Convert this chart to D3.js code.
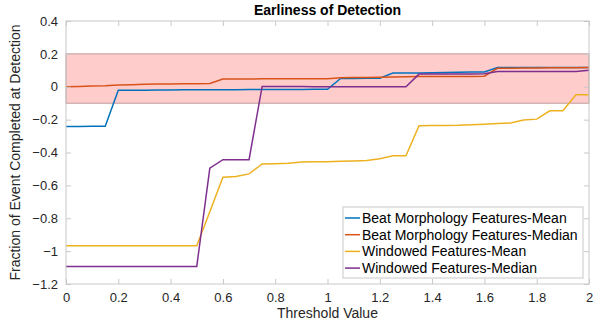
<!DOCTYPE html>
<html>
<head>
<meta charset="utf-8">
<script src="https://cdn.jsdelivr.net/npm/d3@7"></script>
<style>
  body { margin: 0; background: #fff; }
  text { font-family: "Liberation Sans", Arial, sans-serif; }
</style>
</head>
<body>
<script>
// threshold values 0 .. 2 in steps of 0.05
const thresholds = d3.range(41).map(i => +(i * 0.05).toFixed(2));

const beatMean = [
  -0.242, -0.242, -0.241, -0.240, -0.022, -0.021, -0.021, -0.020, -0.020, -0.019,
  -0.019, -0.018, -0.018, -0.018, -0.017, -0.017, -0.016, -0.016, -0.016, -0.015,
  -0.015, 0.050, 0.050, 0.051, 0.052, 0.083, 0.083, 0.084, 0.085, 0.086,
  0.088, 0.089, 0.090, 0.117, 0.117, 0.117, 0.117, 0.117, 0.117, 0.117, 0.117
];
const beatMedian = [
  0.000, 0.002, 0.004, 0.006, 0.010, 0.012, 0.015, 0.016, 0.017, 0.018,
  0.019, 0.020, 0.047, 0.047, 0.047, 0.048, 0.048, 0.048, 0.048, 0.048,
  0.048, 0.055, 0.056, 0.057, 0.058, 0.060, 0.061, 0.062, 0.062, 0.063,
  0.063, 0.063, 0.064, 0.112, 0.113, 0.114, 0.114, 0.115, 0.115, 0.116, 0.117
];
const windowedMean = [
  -0.967, -0.967, -0.967, -0.967, -0.967, -0.967, -0.967, -0.967, -0.967, -0.967,
  -0.967, -0.760, -0.550, -0.546, -0.530, -0.470, -0.468, -0.466, -0.458, -0.457,
  -0.456, -0.453, -0.451, -0.448, -0.438, -0.420, -0.420, -0.237, -0.236, -0.235,
  -0.234, -0.231, -0.228, -0.224, -0.221, -0.203, -0.197, -0.146, -0.146, -0.049, -0.049
];
const windowedMedian = [
  -1.093, -1.093, -1.093, -1.093, -1.093, -1.093, -1.093, -1.093, -1.093, -1.093,
  -1.093, -0.495, -0.444, -0.444, -0.444, 0.002, 0.002, 0.001, 0.001, 0.000,
  0.000, 0.000, 0.000, 0.000, 0.000, 0.000, 0.000, 0.077, 0.077, 0.078,
  0.078, 0.078, 0.079, 0.093, 0.093, 0.093, 0.093, 0.093, 0.093, 0.093, 0.100
];

const seriesNames = [
  "Beat Morphology Features-Mean",
  "Beat Morphology Features-Median",
  "Windowed Features-Mean",
  "Windowed Features-Median"
];
const seriesValues = [beatMean, beatMedian, windowedMean, windowedMedian];
const seriesColors = ["#0072BD", "#D95319", "#EDB120", "#7E2F8E"];

const band = [-0.1, 0.2];
const xTicks = d3.range(0, 2.01, 0.2);
const yTicks = d3.range(-1.2, 0.41, 0.2);

let margin = null, width = null, height = null;
let svg = null, x = null, y = null;

setupCanvasSize();
appendSvg("body");
setupScales();
appendBand();
appendLines();
appendAxes();
appendLabels();
appendLegend();

function setupCanvasSize() {
  margin = {top: 21, left: 66, bottom: 38, right: 8};
  width = 597 - margin.left - margin.right;
  height = 322 - margin.top - margin.bottom;
}

function appendSvg(domElement) {
  svg = d3.select(domElement).append("svg")
    .attr("width", width + margin.left + margin.right)
    .attr("height", height + margin.top + margin.bottom)
    .append("g")
    .attr("transform", `translate(${margin.left}, ${margin.top})`);
}

function setupScales() {
  x = d3.scaleLinear().domain([0, 2]).range([0, width]);
  y = d3.scaleLinear().domain([-1.2, 0.4]).range([height, 0]);
}

function appendBand() {
  svg.append("rect")
    .attr("x", 0)
    .attr("y", y(band[1]))
    .attr("width", width)
    .attr("height", y(band[0]) - y(band[1]))
    .style("fill", "#ffcccc")
    .style("stroke", "#c09a9a")
    .style("stroke-width", 1);
}

function appendLines() {
  const line = d3.line()
    .x((d, i) => x(thresholds[i]))
    .y(d => y(d));

  seriesValues.forEach((vals, k) => {
    svg.append("path")
      .datum(vals)
      .attr("d", line)
      .style("fill", "none")
      .style("stroke", seriesColors[k])
      .style("stroke-width", 1.5);
  });
}

function appendAxes() {
  const tickFmt = d => d3.format("~g")(+d.toFixed(1));

  const styleAxis = g => {
    g.select(".domain").remove();
    g.selectAll(".tick line").attr("stroke", "#c8c8c8");
    g.selectAll(".tick text")
      .attr("fill", "#262626")
      .style("font-size", "13px")
      .style("font-family", "'Liberation Sans', Arial, sans-serif");
  };

  svg.append("g")
    .attr("transform", `translate(0,${height})`)
    .call(d3.axisBottom(x).tickValues(xTicks).tickFormat(tickFmt).tickSizeInner(-5).tickPadding(9))
    .call(styleAxis);
  svg.append("g")
    .call(d3.axisTop(x).tickValues(xTicks).tickSizeInner(-5).tickFormat(""))
    .call(styleAxis);
  svg.append("g")
    .call(d3.axisLeft(y).tickValues(yTicks).tickFormat(tickFmt).tickSizeInner(-5).tickPadding(8))
    .call(styleAxis);
  svg.append("g")
    .attr("transform", `translate(${width},0)`)
    .call(d3.axisRight(y).tickValues(yTicks).tickSizeInner(-5).tickFormat(""))
    .call(styleAxis);

  // box
  svg.append("rect")
    .attr("width", width)
    .attr("height", height)
    .style("fill", "none")
    .style("stroke", "#c8c8c8")
    .style("stroke-width", 1);
}

function appendLabels() {
  svg.append("text")
    .attr("x", width / 2)
    .attr("y", -6)
    .attr("text-anchor", "middle")
    .style("font-size", "14px")
    .style("font-weight", "bold")
    .attr("fill", "#000")
    .text("Earliness of Detection");

  svg.append("text")
    .attr("x", width / 2)
    .attr("y", height + 34)
    .attr("text-anchor", "middle")
    .style("font-size", "14px")
    .attr("fill", "#262626")
    .text("Threshold Value");

  svg.append("text")
    .attr("transform", `translate(${-46},${height / 2}) rotate(-90)`)
    .attr("text-anchor", "middle")
    .style("font-size", "14px")
    .attr("fill", "#262626")
    .text("Fraction of Event Completed at Detection");
}

function appendLegend() {
  const lx = 343 - margin.left, ly = 207 - margin.top;
  const lg = svg.append("g").attr("transform", `translate(${lx},${ly})`);

  lg.append("rect")
    .attr("width", 240)
    .attr("height", 71)
    .style("fill", "#fff")
    .style("stroke", "#c8c8c8");

  seriesNames.forEach((name, k) => {
    const cy = 11 + k * 16.7;
    lg.append("line")
      .attr("x1", 2).attr("x2", 17)
      .attr("y1", cy).attr("y2", cy)
      .style("stroke", seriesColors[k])
      .style("stroke-width", 1.5);
    lg.append("text")
      .attr("x", 19)
      .attr("y", cy)
      .attr("dy", "0.35em")
      .style("font-size", "14px")
      .attr("fill", "#000")
      .text(name);
  });
}
</script>
</body>
</html>
